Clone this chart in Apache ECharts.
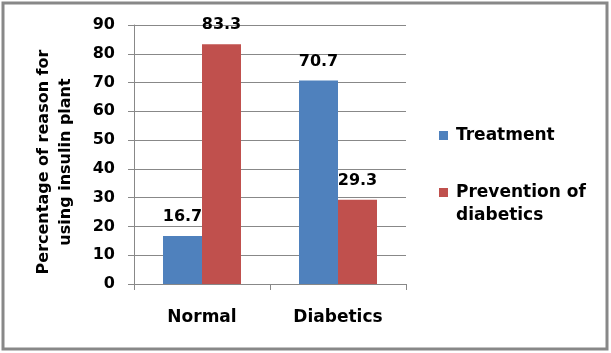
<!DOCTYPE html>
<html>
<head>
<meta charset="utf-8">
<script src="https://cdn.jsdelivr.net/npm/echarts@6/dist/echarts.min.js"></script>
<style>
  html, body { margin: 0; padding: 0; background: #fff; }
  #chart { width: 611px; height: 353px; }
</style>
</head>
<body>
<div id="chart"></div>
<script>
var categories = ['Normal', 'Diabetics']
var seriesNames = ['Treatment', 'Prevention of\ndiabetics']
var treatment = [16.7, 70.7]
var prevention = [83.3, 29.3]
var yTicks = [0, 10, 20, 30, 40, 50, 60, 70, 80, 90]
var yTitle = 'Percentage of reason for\nusing insulin plant'

var font = 'DejaVu Sans, Verdana, sans-serif'
var myChart = echarts.init(document.getElementById('chart'))

var labelStyle = {
  show: true,
  position: 'top',
  distance: 11,
  color: '#000',
  fontSize: 16,
  fontWeight: 'bold',
  fontFamily: font
}

var option = {
  animation: false,
  graphic: [
    // grey chart border
    {
      type: 'rect',
      shape: { x: 3, y: 3, width: 604, height: 346 },
      style: { fill: 'none', stroke: '#888', lineWidth: 3 },
      z: -1
    },
    // y axis title, placed by hand so it sits like the original
    {
      type: 'text',
      x: 55,
      y: 162,
      rotation: Math.PI / 2,
      style: {
        text: yTitle,
        fill: '#000',
        font: 'bold 16px ' + font,
        lineHeight: 22,
        textAlign: 'center',
        textVerticalAlign: 'middle'
      }
    }
  ],
  grid: { left: 134, right: 205, top: 25, bottom: 69 },
  legend: {
    orient: 'vertical',
    left: 439,
    top: 124,
    padding: 0,
    itemWidth: 9,
    itemHeight: 9,
    itemGap: 11,
    icon: 'rect',
    // blank first line keeps the marker level with "Prevention of"
    formatter: function (name) {
      return name === seriesNames[1] ? '\n' + name : name
    },
    textStyle: { fontSize: 17, fontWeight: 'bold', fontFamily: font, color: '#000', lineHeight: 23, padding: [0, 0, 0, 3] },
    data: seriesNames
  },
  xAxis: {
    type: 'category',
    data: categories,
    axisLine: { lineStyle: { color: '#888' } },
    axisTick: { show: true, length: 6, lineStyle: { color: '#888' } },
    axisLabel: { margin: 25, color: '#000', fontSize: 17, fontWeight: 'bold', fontFamily: font }
  },
  yAxis: {
    type: 'value',
    min: yTicks[0],
    max: yTicks[yTicks.length - 1],
    interval: 10,
    axisLine: { show: true, lineStyle: { color: '#888' } },
    axisTick: { show: true, length: 6, lineStyle: { color: '#888' } },
    splitLine: { lineStyle: { color: '#888' } },
    axisLabel: { margin: 19, color: '#000', fontSize: 16, fontWeight: 'bold', fontFamily: font }
  },
  series: [
    {
      name: seriesNames[0],
      type: 'bar',
      data: treatment,
      barWidth: 39,
      barGap: '0%',
      itemStyle: { color: '#4F81BD' },
      label: labelStyle
    },
    {
      name: seriesNames[1],
      type: 'bar',
      data: prevention,
      barWidth: 39,
      barGap: '0%',
      itemStyle: { color: '#C0504D' },
      label: labelStyle
    }
  ]
}
myChart.setOption(option)
</script>
</body>
</html>
